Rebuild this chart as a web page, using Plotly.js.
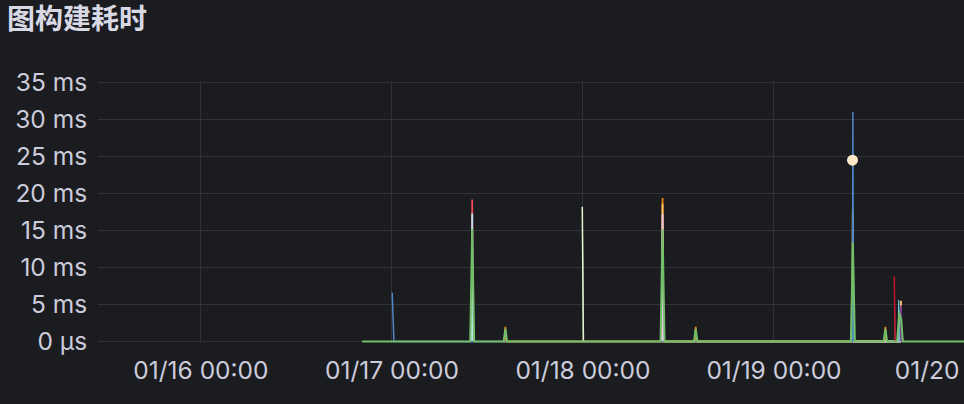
<!DOCTYPE html>
<html>
<head>
<meta charset="utf-8">
<script src="https://cdn.plot.ly/plotly-3.0.1.min.js"></script>
<style>
  html, body { margin: 0; padding: 0; background: #1b1c20; overflow: hidden; }
  #chart { width: 1010px; height: 404px; }
</style>
</head>
<body>
<div id="chart"></div>
<script>
// ---- data (ms) ----
const chartTitle = '图构建耗时';
const yTickVals = [0, 5, 10, 15, 20, 25, 30, 35];
const yTickText = ['0 µs', '5 ms', '10 ms', '15 ms', '20 ms', '25 ms', '30 ms', '35 ms'];

// main green series
const greenT = ['2024-01-16 20:15', '2024-01-17 09:50', '2024-01-17 10:05', '2024-01-17 10:20',
  '2024-01-17 14:02', '2024-01-17 14:15', '2024-01-17 14:28',
  '2024-01-18 09:45', '2024-01-18 10:00', '2024-01-18 10:15',
  '2024-01-18 13:57', '2024-01-18 14:10', '2024-01-18 14:23',
  '2024-01-19 09:40', '2024-01-19 09:55', '2024-01-19 10:10',
  '2024-01-19 13:47', '2024-01-19 14:00', '2024-01-19 14:13',
  '2024-01-19 15:28', '2024-01-19 15:45', '2024-01-19 15:58', '2024-01-19 16:12',
  '2024-01-20 06:00'];
const greenV = [0, 0, 15.2, 0, 0, 1.7, 0, 0, 15.2, 0, 0, 1.7, 0, 0, 13.4, 0, 0, 1.7, 0, 0, 3.9, 3.0, 0, 0];

// thin series
const blueT = ['2024-01-17 00:02', '2024-01-17 00:15', '2024-01-19 09:52', '2024-01-19 09:55', '2024-01-19 09:59'];
const blueV = [6.6, 0, 0, 31.0, 0];

const redT = ['2024-01-17 10:01', '2024-01-17 10:05', '2024-01-17 10:09'];
const redV = [0, 19.2, 0];

const paleBlueT = ['2024-01-17 10:01', '2024-01-17 10:05', '2024-01-17 10:09'];
const paleBlueV = [0, 17.3, 0];

const dimRedT = ['2024-01-17 10:00', '2024-01-17 10:04', '2024-01-17 10:08'];
const dimRedV = [0, 6.0, 0];

const paleGreenT = ['2024-01-17 23:55', '2024-01-18 00:03'];
const paleGreenV = [18.2, 0];

const greyT = ['2024-01-17 23:57', '2024-01-18 00:05'];
const greyV = [14.0, 0];

const orangeT = ['2024-01-18 09:56', '2024-01-18 10:00', '2024-01-18 10:04',
  '2024-01-17 14:11', '2024-01-17 14:15', '2024-01-17 14:19',
  '2024-01-18 14:06', '2024-01-18 14:10', '2024-01-18 14:14',
  '2024-01-19 13:56', '2024-01-19 14:00', '2024-01-19 14:04'];
const orangeV = [0, 19.4, 0, 0, 2.0, 0, 0, 2.0, 0, 0, 2.0, 0];

const peachT = ['2024-01-18 09:56', '2024-01-18 10:00', '2024-01-18 10:04', '2024-01-19 15:52', '2024-01-19 15:57', '2024-01-19 16:02'];
const peachV = [0, 18.6, 0, 0, 5.5, 0];

const pinkT = ['2024-01-18 09:56', '2024-01-18 10:00', '2024-01-18 10:04'];
const pinkV = [0, 17.2, 0];

const yellowT = ['2024-01-19 09:51', '2024-01-19 09:54', '2024-01-19 09:58'];
const yellowV = [0, 17.9, 0];

const lavenderT = ['2024-01-19 09:51', '2024-01-19 09:55', '2024-01-19 09:59', '2024-01-19 15:50', '2024-01-19 15:55', '2024-01-19 16:00'];
const lavenderV = [0, 16.9, 0, 0, 4.3, 0];

const darkRedT = ['2024-01-19 15:07', '2024-01-19 15:13'];
const darkRedV = [8.8, 0];

const tealT = ['2024-01-19 15:09', '2024-01-19 15:15'];
const tealV = [4.8, 0];

const cyanT = ['2024-01-19 15:37', '2024-01-19 15:40', '2024-01-19 15:44'];
const cyanV = [0, 5.6, 0];

const purpleT = ['2024-01-19 15:50', '2024-01-19 15:58', '2024-01-19 16:05'];
const purpleV = [0, 4.9, 0];

const creamT = ['2024-01-19 09:52'];
const creamV = [24.5];

// ---- traces ----
function thin(x, y, color, w) {
  return { x: x, y: y, type: 'scatter', mode: 'lines', line: { color: color, width: w || 1.2 }, hoverinfo: 'skip' };
}
const traces = [
  thin(dimRedT, dimRedV, '#7a3a3a'),
  thin(greyT, greyV, '#6f7a6a'),
  thin(tealT, tealV, '#2f6f74'),
  thin(redT, redV, '#F2495C', 1.8),
  thin(paleBlueT, paleBlueV, '#bfe0f0', 1.8),
  thin(orangeT, orangeV, '#F2820C', 1.8),
  thin(peachT, peachV, '#FFC46B', 1.8),
  thin(pinkT, pinkV, '#EBC7EE', 1.8),
  thin(yellowT, yellowV, '#E0B400', 1.8),
  thin(lavenderT, lavenderV, '#D3D8F7', 1.8),
  thin(purpleT, purpleV, '#6B2D83', 1.5),
  thin(cyanT, cyanV, '#6CC6D9', 1.2),
  thin(darkRedT, darkRedV, '#C4162A', 1.5),
  thin(paleGreenT, paleGreenV, '#E2F5D0', 1.5),
  thin(blueT, blueV, '#4F86C6', 1.5),
  { x: greenT, y: greenV, type: 'scatter', mode: 'lines', line: { color: '#73BF69', width: 2 }, hoverinfo: 'skip' },
  { x: creamT, y: creamV, type: 'scatter', mode: 'markers', marker: { color: '#FCE8C4', size: 11 }, hoverinfo: 'skip' }
];

const textColor = '#CCCCDC';
const tickFont = { family: 'Inter, Roboto, sans-serif', size: 24.5, color: textColor };
const layout = {
  width: 1010, height: 404,
  paper_bgcolor: '#1b1c20', plot_bgcolor: '#1b1c20',
  showlegend: false,
  margin: { l: 98, r: 10, t: 80.5, b: 60.5 },
  title: {
    text: chartTitle, xref: 'container', yref: 'container',
    x: 7 / 1010, xanchor: 'left', y: 1 - 19 / 404, yanchor: 'middle',
    font: { family: 'Noto Sans CJK SC, Inter, sans-serif', size: 28, color: '#D8D9E4', weight: 600 }
  },
  font: tickFont,
  xaxis: {
    type: 'date',
    range: ['2024-01-15 11:04', '2024-01-20 04:24'],
    tick0: '2024-01-16 00:00', dtick: 86400000,
    tickformat: '%m/%d %H:%M',
    showgrid: true, gridcolor: '#303237', gridwidth: 1,
    zeroline: false, showline: false,
    ticks: 'outside', ticklen: 6, tickcolor: 'rgba(0,0,0,0)',
    ticklabeloverflow: 'allow',
    tickfont: tickFont
  },
  yaxis: {
    range: [-0.2, 35.2],
    tickvals: yTickVals, ticktext: yTickText,
    showgrid: true, gridcolor: '#303237', gridwidth: 1,
    zeroline: false, showline: false,
    ticks: 'outside', ticklen: 5, tickcolor: 'rgba(0,0,0,0)',
    tickfont: tickFont
  }
};

Plotly.newPlot('chart', traces, layout, { displayModeBar: false, staticPlot: true });
</script>
</body>
</html>
